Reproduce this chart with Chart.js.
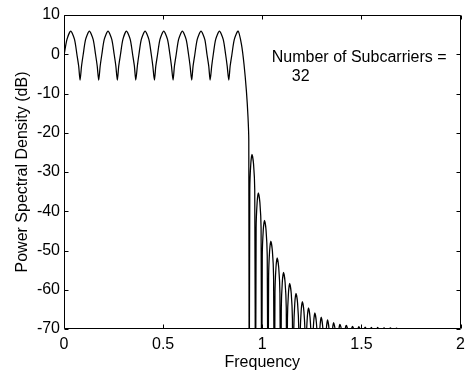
<!DOCTYPE html>
<html>
<head>
<meta charset="utf-8">
<title>PSD</title>
<script src="https://cdn.jsdelivr.net/npm/chart.js@4/dist/chart.umd.min.js"></script>
<style>
  html, body { margin: 0; padding: 0; background: #fff; }
  canvas { display: block; }
</style>
</head>
<body>
<canvas id="psdChart" width="471" height="373"></canvas>
<script>
// passband ripple (frequency, dB)
const passFreq = [0.000, 0.015, 0.034, 0.053, 0.065, 0.074, 0.081,
  0.0885, 0.097, 0.109, 0.128, 0.147, 0.159, 0.1675, 0.175,
  0.1825, 0.191, 0.203, 0.222, 0.241, 0.253, 0.2615, 0.269,
  0.276, 0.285, 0.297, 0.315, 0.334, 0.346, 0.355, 0.362,
  0.370, 0.378, 0.390, 0.409, 0.428, 0.440, 0.448, 0.456,
  0.463, 0.472, 0.484, 0.503, 0.522, 0.534, 0.542, 0.550,
  0.557, 0.566, 0.578, 0.597, 0.616, 0.628, 0.636, 0.644,
  0.651, 0.660, 0.672, 0.691, 0.710, 0.721, 0.730, 0.737,
  0.745, 0.753, 0.765, 0.784, 0.803, 0.815, 0.823, 0.831,
  0.838, 0.847, 0.859, 0.878];
const passDb = [-0.3, 3.8, 5.9, 3.8, 0, -3, -6.6,
  -3, 0, 3.8, 5.9, 3.8, 0, -3, -6.6,
  -3, 0, 3.8, 5.9, 3.8, 0, -3, -6.6,
  -3, 0, 3.8, 5.9, 3.8, 0, -3, -6.6,
  -3, 0, 3.8, 5.9, 3.8, 0, -3, -6.6,
  -3, 0, 3.8, 5.9, 3.8, 0, -3, -6.6,
  -3, 0, 3.8, 5.9, 3.8, 0, -3, -6.6,
  -3, 0, 3.8, 5.9, 3.8, 0, -3, -6.6,
  -3, 0, 3.8, 5.9, 3.8, 0, -3, -6.6,
  -3, 0, 3.8, 5.9];

// band edge roll-off
const rollFreq = [0.895, 0.908, 0.920, 0.928, 0.932];
const rollDb = [2.5, -2.6, -9.4, -16, -22];

// sidelobes, nulls go off the bottom of the axes
const sideFreq = [
  0.934, 0.937, 0.942, 0.948, 0.956, 0.962,
  0.966, 0.969, 0.974, 0.980, 0.988, 0.994,
  0.997, 1.000, 1.005, 1.011, 1.019, 1.025,
  1.029, 1.032, 1.037, 1.043, 1.051, 1.057,
  1.061, 1.064, 1.069, 1.075, 1.083, 1.089,
  1.093, 1.096, 1.101, 1.107, 1.115, 1.121,
  1.124, 1.127, 1.132, 1.138, 1.146, 1.152,
  1.156, 1.159, 1.164, 1.170, 1.178, 1.184,
  1.188, 1.191, 1.196, 1.202, 1.210, 1.216,
  1.219, 1.222, 1.227, 1.233, 1.241, 1.247,
  1.251, 1.254, 1.259, 1.265, 1.273, 1.279,
  1.283, 1.286, 1.291, 1.297, 1.305, 1.311,
  1.315, 1.318, 1.323, 1.329, 1.337, 1.343,
  1.346, 1.349, 1.354, 1.360, 1.368, 1.374,
  1.378, 1.381, 1.386, 1.392, 1.400, 1.406,
  1.410, 1.413, 1.418, 1.424, 1.432, 1.438,
  1.441, 1.444, 1.449, 1.455, 1.463, 1.469,
  1.473, 1.476, 1.481, 1.487, 1.495, 1.501,
  1.505, 1.508, 1.513, 1.519, 1.527, 1.533,
  1.536, 1.539, 1.544, 1.550, 1.558, 1.564,
  1.568, 1.571, 1.576, 1.582, 1.590, 1.596,
  1.600, 1.603, 1.608, 1.614, 1.622, 1.628,
  1.632, 1.635, 1.640, 1.646, 1.654, 1.660,
  1.663, 1.666, 1.671, 1.677, 1.685, 1.691,
  1.695, 2.000];
const sideDb = [
  -100, -34.5, -28.0, -25.5, -28.0, -34.5,
  -100, -44.3, -37.8, -35.3, -37.8, -44.3,
  -100, -51.3, -44.8, -42.3, -44.8, -51.3,
  -100, -56.6, -50.1, -47.6, -50.1, -56.6,
  -100, -60.9, -54.4, -51.9, -54.4, -60.9,
  -100, -64.6, -58.1, -55.6, -58.1, -64.6,
  -100, -67.4, -60.9, -58.4, -60.9, -67.4,
  -100, -69.9, -63.4, -60.9, -63.4, -69.9,
  -100, -72.0, -65.5, -63.0, -65.5, -72.0,
  -100, -73.6, -67.1, -64.6, -67.1, -73.6,
  -100, -74.9, -68.4, -65.9, -68.4, -74.9,
  -100, -76.0, -69.5, -67.0, -69.5, -76.0,
  -100, -76.7, -70.2, -67.7, -70.2, -76.7,
  -100, -77.4, -70.4, -68.4, -70.4, -77.4,
  -100, -77.8, -70.4, -68.8, -70.4, -77.8,
  -100, -78, -70.4, -69.1, -70.4, -78,
  -100, -78, -70.4, -69.3, -70.4, -78,
  -100, -78, -70.4, -69.4, -70.4, -78,
  -100, -78, -70.4, -69.5, -70.4, -78,
  -100, -78, -70.4, -69.6, -70.4, -78,
  -100, -78, -70.4, -69.6, -70.4, -78,
  -100, -78, -70.4, -69.7, -70.4, -78,
  -100, -78, -70.4, -69.7, -70.4, -78,
  -100, -78, -70.4, -69.8, -70.4, -78,
  -100, -100];

const xTicks = [0, 0.5, 1, 1.5, 2];
const yTicks = [10, 0, -10, -20, -30, -40, -50, -60, -70];
const noteLines = ["Number of Subcarriers =", "32"];

const FONT = "'Liberation Sans', Arial, Helvetica, sans-serif";

document.addEventListener("DOMContentLoaded", function() {

    function buildPoints() {
        const pts = [];
        passFreq.forEach((f, i) => pts.push({ x: f, y: passDb[i] }));
        rollFreq.forEach((f, i) => pts.push({ x: f, y: rollDb[i] }));
        sideFreq.forEach((f, i) => pts.push({ x: f, y: sideDb[i] }));
        return pts;
    }

    // matlab style box with inward ticks + text note
    const boxPlugin = {
        id: "box",
        afterDraw(chart) {
            const ctx = chart.ctx;
            const a = chart.chartArea;
            const xs = chart.scales.x;
            const ys = chart.scales.y;
            const L = Math.round(a.left) + 0.5, R = Math.round(a.right) - 0.5;
            const T = Math.round(a.top) + 0.5, B = Math.round(a.bottom) - 0.5;
            const len = 4;
            ctx.save();
            ctx.strokeStyle = "#000";
            ctx.lineWidth = 1;
            ctx.beginPath();
            ctx.rect(L, T, R - L, B - T);
            xTicks.forEach(v => {
                const px = Math.round(xs.getPixelForValue(v)) + 0.5;
                ctx.moveTo(px, B); ctx.lineTo(px, B - len);
                ctx.moveTo(px, T); ctx.lineTo(px, T + len);
            });
            yTicks.forEach(v => {
                const py = Math.round(ys.getPixelForValue(v)) + 0.5;
                ctx.moveTo(L, py); ctx.lineTo(L + len, py);
                ctx.moveTo(R, py); ctx.lineTo(R - len, py);
            });
            ctx.stroke();

            ctx.fillStyle = "#000";
            ctx.font = "16px " + FONT;
            ctx.textAlign = "left";
            ctx.textBaseline = "alphabetic";
            ctx.fillText(noteLines[0], xs.getPixelForValue(1.048), ys.getPixelForValue(-2.1));
            ctx.fillText(noteLines[1], xs.getPixelForValue(1.149), ys.getPixelForValue(-6.8));
            ctx.restore();
        }
    };

    function displayChart() {
        const ctx = document.getElementById("psdChart").getContext("2d");
        const psdChart = new Chart(ctx, {
            type: "scatter",
            data: {
                datasets: [
                    {
                        label: "PSD",
                        data: buildPoints(),
                        showLine: true,
                        borderColor: "#000",
                        borderWidth: 1.25,
                        pointRadius: 0,
                        tension: 0.25,
                        fill: false
                    }
                ]
            },
            options: {
                responsive: false,
                animation: false,
                devicePixelRatio: 1,
                layout: { padding: { left: 0, right: 10, top: 15, bottom: 0 } },
                plugins: {
                    legend: { display: false },
                    tooltip: { enabled: false }
                },
                scales: {
                    x: {
                        type: "linear",
                        min: 0,
                        max: 2,
                        afterBuildTicks: s => { s.ticks = xTicks.map(v => ({ value: v })); },
                        afterFit: s => { s.height = 44; },
                        grid: { display: false, drawTicks: false },
                        border: { display: false },
                        ticks: {
                            color: "#000",
                            padding: 6,
                            maxRotation: 0,
                            font: { family: FONT, size: 16 },
                            callback: v => String(v)
                        },
                        title: {
                            display: true,
                            text: "Frequency",
                            color: "#000",
                            font: { family: FONT, size: 16 },
                            padding: { top: 0, bottom: 1 }
                        }
                    },
                    y: {
                        type: "linear",
                        min: -70,
                        max: 10,
                        afterBuildTicks: s => { s.ticks = yTicks.map(v => ({ value: v })); },
                        afterFit: s => { s.width = 64; },
                        grid: { display: false, drawTicks: false },
                        border: { display: false },
                        ticks: {
                            color: "#000",
                            padding: 4,
                            font: { family: FONT, size: 16 },
                            callback: v => String(v)
                        },
                        title: {
                            display: true,
                            text: "Power Spectral Density (dB)",
                            color: "#000",
                            font: { family: FONT, size: 16 },
                            padding: { top: 13, bottom: 0 }
                        }
                    }
                }
            },
            plugins: [boxPlugin]
        });
    }

    displayChart();
});
</script>
</body>
</html>
